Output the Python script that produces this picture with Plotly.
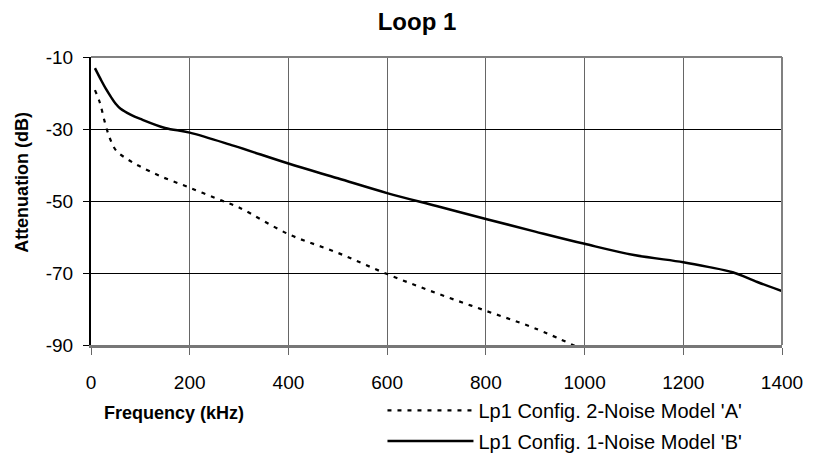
import plotly.graph_objects as go

# Series B (solid): Lp1 Config. 1-Noise Model 'B'
freq_b = [8, 20, 30, 40, 50, 60, 80, 100, 150, 200, 290, 400, 500, 600, 700,
          800, 900, 1000, 1100, 1200, 1250, 1300, 1350, 1400, 1415]
atten_b = [-13.1, -16.3, -18.8, -21.0, -23.0, -24.4, -26.0, -27.2, -29.7, -31.0,
           -34.7, -39.6, -43.7, -47.8, -51.4, -55.0, -58.5, -61.9, -65.0, -67.0,
           -68.3, -69.8, -72.5, -75.0, -75.6]

# Series A (dashed): Lp1 Config. 2-Noise Model 'A'
freq_a = [8, 18, 28, 38, 51, 75, 98, 142, 200, 265, 300, 400, 500, 600, 700,
          800, 900, 1000]
atten_a = [-19.2, -22.7, -28.1, -32.5, -36.0, -38.5, -40.3, -43.2, -46.3, -49.9,
           -51.8, -59.2, -64.4, -70.3, -75.6, -80.5, -85.4, -91.5]

x_ticks = [0, 200, 400, 600, 800, 1000, 1200, 1400]
y_ticks = [-10, -30, -50, -70, -90]

FONT = "Liberation Sans, Arial, sans-serif"

W, H = 815, 473
L, T, PW, PH = 91, 57, 697, 300


def px(xf):
    return (xf - L) / PW


def py(yf):
    return (T + PH - yf) / PH


fig = go.Figure()
fig.add_trace(go.Scatter(
    x=freq_a, y=atten_a, mode="lines", line_shape="spline",
    name="Lp1 Config. 2-Noise Model 'A'", legend="legend",
    line=dict(color="black", width=2.2, dash="4px,6px"),
))
fig.add_trace(go.Scatter(
    x=freq_b, y=atten_b, mode="lines", line_shape="spline",
    name="Lp1 Config. 1-Noise Model 'B'", legend="legend2",
    line=dict(color="black", width=2.5),
))

legend_common = dict(x=px(385), xanchor="left", yanchor="middle",
                     bgcolor="rgba(0,0,0,0)",
                     font=dict(family=FONT, size=20, color="black"),
                     itemwidth=86)

fig.update_layout(
    width=W, height=H,
    margin=dict(l=L, r=W - L - PW, t=T, b=H - T - PH),
    paper_bgcolor="white", plot_bgcolor="white",
    font=dict(family=FONT, size=19, color="black"),
    title=dict(text="<b>Loop 1</b>", x=417 / W, xanchor="center",
               y=1 - 21.5 / H, yanchor="middle",
               font=dict(family=FONT, size=24, color="black")),
    showlegend=True,
    legend=dict(y=py(425), **legend_common),
    legend2=dict(y=py(457), **legend_common),
)

fig.update_xaxes(
    range=[0, 1400], tickvals=x_ticks, ticktext=[str(v) for v in x_ticks],
    showgrid=True, gridcolor="#666666", gridwidth=1,
    showline=True, linecolor="#777777", linewidth=2.5, mirror=False,
    ticks="outside", ticklen=7, tickcolor="#666666", tickwidth=1,
    tickfont=dict(family=FONT, size=19), zeroline=False,
    ticklabelstandoff=11,
)
fig.update_yaxes(
    range=[-90, -10], tickvals=y_ticks, ticktext=[str(v) for v in y_ticks],
    showgrid=True, gridcolor="black", gridwidth=1,
    showline=True, linecolor="black", linewidth=2,
    ticks="outside", ticklen=6, tickcolor="black", tickwidth=1,
    tickfont=dict(family=FONT, size=19), zeroline=False,
    ticklabelstandoff=6,
)

# Top and right border of plot area (grey)
fig.add_shape(type="line", xref="paper", yref="paper", x0=0, x1=1, y0=1, y1=1,
              line=dict(color="#808080", width=2))
fig.add_shape(type="line", xref="paper", yref="paper", x0=1, x1=1, y0=0, y1=1,
              line=dict(color="#808080", width=2))

# Axis titles
fig.add_annotation(text="<b>Attenuation (dB)</b>", xref="paper", yref="paper",
                   x=px(22), y=py(187.5), textangle=-90,
                   showarrow=False, xanchor="center", yanchor="middle",
                   font=dict(family=FONT, size=18))
fig.add_annotation(text="<b>Frequency (kHz)</b>", xref="paper", yref="paper",
                   x=px(175), y=py(427.5),
                   showarrow=False, xanchor="center", yanchor="middle",
                   font=dict(family=FONT, size=18))

fig.write_html(
    "out.html",
    config={"displayModeBar": False},
    post_script="document.body.style.margin='0';"
                "document.body.style.overflow='hidden';",
)
